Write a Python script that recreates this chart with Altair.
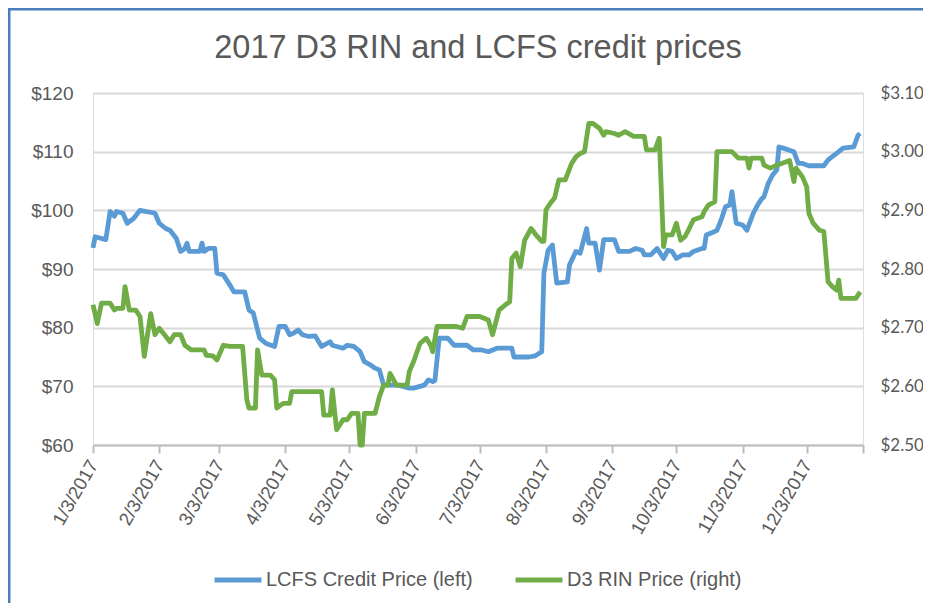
import altair as alt
import pandas as pd

# ---- data (day offsets from 2017-01-03) ----
lcfs_day = [0, 1, 6, 8, 10, 11, 14, 16, 19, 22, 29, 31, 34, 36, 39, 41, 43, 44, 45, 50,
            51, 52, 54, 57, 58, 61, 64, 66, 71, 73, 75, 78, 81, 85, 87, 90, 92, 94, 96, 98,
            101, 104, 107, 111, 112, 117, 119, 122, 125, 127, 130, 132, 134, 136, 143, 148, 150, 153, 155, 157,
            159, 160, 162, 166, 169, 175, 178, 182, 185, 189, 196, 197, 204, 207, 210, 211, 213, 215, 217, 222,
            223, 226, 228, 231, 232, 235, 237, 239, 244, 246, 251, 254, 257, 258, 261, 264, 267, 269, 271, 273,
            276, 279, 281, 285, 286, 287, 291, 292, 294, 296, 298, 299, 301, 304, 306, 309, 311, 313, 314, 316,
            318, 320, 321, 323, 328, 330, 332, 335, 342, 344, 349, 351, 356, 358, 359]
lcfs_val = [93.6, 95.5, 95.0, 99.8, 99.0, 99.8, 99.5, 97.8, 98.6, 100.0, 99.5, 97.8, 96.9, 96.6, 95.2, 93.0, 93.5, 94.4, 93.0, 93.0,
            94.4, 93.0, 93.5, 93.5, 89.3, 89.0, 87.3, 86.1, 86.1, 83.0, 82.5, 78.2, 77.3, 76.8, 80.2, 80.2, 78.8, 79.1, 79.6, 78.8,
            78.5, 78.6, 76.8, 77.6, 77.0, 76.5, 77.0, 76.8, 75.9, 74.2, 73.6, 73.1, 72.8, 70.2, 70.2, 69.7, 69.7, 70.0, 70.2, 71.1,
            70.8, 71.0, 78.2, 78.2, 77.0, 77.0, 76.2, 76.2, 75.9, 76.5, 76.5, 75.0, 75.0, 75.2, 75.9, 89.3, 93.2, 94.1, 87.6, 87.8,
            90.7, 93.0, 92.7, 96.9, 94.4, 94.4, 89.8, 95.0, 95.0, 93.0, 93.0, 93.5, 93.2, 92.4, 92.4, 93.5, 91.8, 93.2, 93.0, 91.8,
            92.4, 92.4, 93.0, 93.5, 93.5, 95.8, 96.4, 96.6, 98.4, 100.6, 100.9, 103.2, 97.8, 97.5, 96.6, 99.5, 100.9, 102.0, 102.3, 104.6,
            106.0, 106.9, 110.8, 110.6, 110.0, 108.0, 108.0, 107.6, 107.6, 108.6, 110.0, 110.6, 110.8, 112.8, 113.1]

rin_day = [0, 2, 4, 8, 10, 11, 14, 15, 17, 20, 22, 24, 27, 29, 31, 33, 36, 38, 41, 43,
           46, 52, 53, 56, 58, 61, 64, 70, 72, 73, 76, 77, 79, 83, 85, 86, 89, 92, 93, 107,
           108, 111, 112, 114, 117, 119, 121, 124, 125, 126, 127, 132, 134, 136, 138, 139, 142, 147, 148, 150,
           153, 156, 158, 159, 161, 170, 173, 175, 181, 185, 187, 190, 193, 195, 196, 198, 200, 202, 205, 208,
           210, 211, 212, 214, 216, 218, 221, 224, 226, 228, 230, 232, 234, 237, 239, 240, 244, 246, 249, 253,
           258, 259, 263, 265, 267, 268, 271, 273, 275, 277, 279, 281, 285, 286, 288, 291, 292, 299, 302, 306,
           307, 308, 313, 314, 317, 320, 326, 328, 329, 332, 334, 335, 337, 340, 342, 344, 346, 348, 349, 350,
           357, 359]
rin_val = [2.739, 2.707, 2.742, 2.742, 2.730, 2.733, 2.733, 2.770, 2.730, 2.730, 2.719, 2.651, 2.724, 2.688, 2.699, 2.690, 2.676, 2.688, 2.688, 2.670,
           2.662, 2.662, 2.653, 2.652, 2.645, 2.670, 2.668, 2.668, 2.577, 2.563, 2.563, 2.662, 2.619, 2.619, 2.611, 2.563, 2.571, 2.571, 2.591, 2.591,
           2.551, 2.551, 2.594, 2.526, 2.543, 2.543, 2.554, 2.554, 2.500, 2.500, 2.554, 2.554, 2.582, 2.602, 2.602, 2.622, 2.602, 2.602, 2.625, 2.642,
           2.673, 2.682, 2.670, 2.659, 2.702, 2.702, 2.699, 2.719, 2.719, 2.713, 2.688, 2.730, 2.739, 2.744, 2.818, 2.827, 2.804, 2.849, 2.869, 2.855,
           2.847, 2.847, 2.901, 2.912, 2.921, 2.952, 2.952, 2.980, 2.991, 2.997, 3.000, 3.048, 3.048, 3.040, 3.028, 3.034, 3.031, 3.028, 3.034, 3.026,
           3.026, 3.003, 3.003, 3.023, 2.838, 2.858, 2.858, 2.878, 2.849, 2.855, 2.869, 2.884, 2.889, 2.898, 2.909, 2.915, 3.000, 3.000, 2.989, 2.989,
           2.972, 2.989, 2.989, 2.977, 2.972, 2.977, 2.985, 2.949, 2.972, 2.957, 2.940, 2.895, 2.878, 2.866, 2.864, 2.778, 2.770, 2.764, 2.781, 2.750,
           2.750, 2.761]

series_names = ["LCFS Credit Price (left)", "D3 RIN Price (right)"]
series_colors = ["#5B9BD5", "#70AD47"]
left_ticks = [60, 70, 80, 90, 100, 110, 120]
right_ticks = [2.5, 2.6, 2.7, 2.8, 2.9, 3.0, 3.1]
title_text = "2017 D3 RIN and LCFS credit prices"

start = pd.Timestamp("2017-01-03")
df_l = pd.DataFrame({"date": start + pd.to_timedelta(lcfs_day, unit="D"),
                     "value": lcfs_val, "series": series_names[0]})
df_r = pd.DataFrame({"date": start + pd.to_timedelta(rin_day, unit="D"),
                     "value": rin_val, "series": series_names[1]})
df = pd.concat([df_l, df_r], ignore_index=True)

GREY = "#595959"
tick_dates = [alt.DateTime(year=2017, month=m, date=3) for m in range(1, 13)]
tick_dates.append(alt.DateTime(year=2017, month=12, date=29, hours=8))

x_enc = alt.X(
    "date:T",
    title=None,
    scale=alt.Scale(domain=[alt.DateTime(year=2017, month=1, date=3),
                            alt.DateTime(year=2017, month=12, date=29, hours=8)]),
    axis=alt.Axis(values=tick_dates,
                  labelExpr="(month(datum.value)==11 && date(datum.value)>3) ? '' : timeFormat(datum.value, '%-m/%-d/%Y')",
                  labelAngle=-60, labelAlign="right", labelBaseline="middle",
                  labelFont="Liberation Sans", labelFontSize=18.5, labelColor=GREY,
                  labelPadding=8, tickSize=8, tickColor="#bfbfbf", tickWidth=2,
                  domainColor="#bfbfbf", domainWidth=2, grid=False, labelOverlap=False),
)

color_enc = alt.Color(
    "series:N",
    scale=alt.Scale(domain=series_names, range=series_colors),
    legend=alt.Legend(title=None, orient="none", direction="horizontal",
                      legendX=119, legendY=461, symbolType="stroke",
                      symbolSize=2200, symbolStrokeWidth=5, labelFontSize=20,
                      labelFont="Liberation Sans", labelColor=GREY, labelOffset=2,
                      labelLimit=400, columnPadding=32),
)

lcfs = alt.Chart(df).transform_filter(
    alt.datum.series == series_names[0]
).mark_line(strokeWidth=4.8, strokeJoin="round").encode(
    x=x_enc,
    y=alt.Y("value:Q", title=None,
            scale=alt.Scale(domain=[60, 120], nice=False, zero=False),
            axis=alt.Axis(values=left_ticks, format="$,.0f", orient="left",
                          labelFont="Liberation Sans", labelFontSize=19, labelColor=GREY,
                          labelPadding=20, ticks=False, domain=False,
                          gridColor="#d9d9d9", gridWidth=2)),
    color=color_enc,
)

rin = alt.Chart(df).transform_filter(
    alt.datum.series == series_names[1]
).mark_line(strokeWidth=4.8, strokeJoin="round").encode(
    x=x_enc,
    y=alt.Y("value:Q", title=None,
            scale=alt.Scale(domain=[2.5, 3.1], nice=False, zero=False),
            axis=alt.Axis(values=right_ticks, format="$.2f", orient="right",
                          labelFont="Lato", labelFontSize=17, labelColor=GREY,
                          labelPadding=17, ticks=False, domain=False, grid=False)),
    color=color_enc,
)

one_row = pd.DataFrame({"t": [title_text]})
title_mark = alt.Chart(one_row).mark_text(
    font="Liberation Sans", fontSize=32.5, color=GREY, align="center", baseline="alphabetic"
).encode(text="t:N", x=alt.value(385), y=alt.value(-35))

left_border = alt.Chart(one_row).mark_rule(color="#4a7ebb", strokeWidth=3).encode(
    x=alt.value(-84), y=alt.value(-85), y2=alt.value(530))
top_border = alt.Chart(one_row).mark_rule(color="#4a7ebb", strokeWidth=3).encode(
    y=alt.value(-84), x=alt.value(-85), x2=alt.value(840))

chart = alt.layer(lcfs, rin, title_mark, left_border, top_border).resolve_scale(
    y="independent"
).properties(
    width=770, height=352,
    autosize=alt.AutoSizeParams(type="none"),
    padding={"left": 85, "top": 85, "right": 60, "bottom": 158},
).configure_view(stroke=None).configure(background="white")

chart.save("out.html", embed_options={"renderer": "svg", "actions": False})
